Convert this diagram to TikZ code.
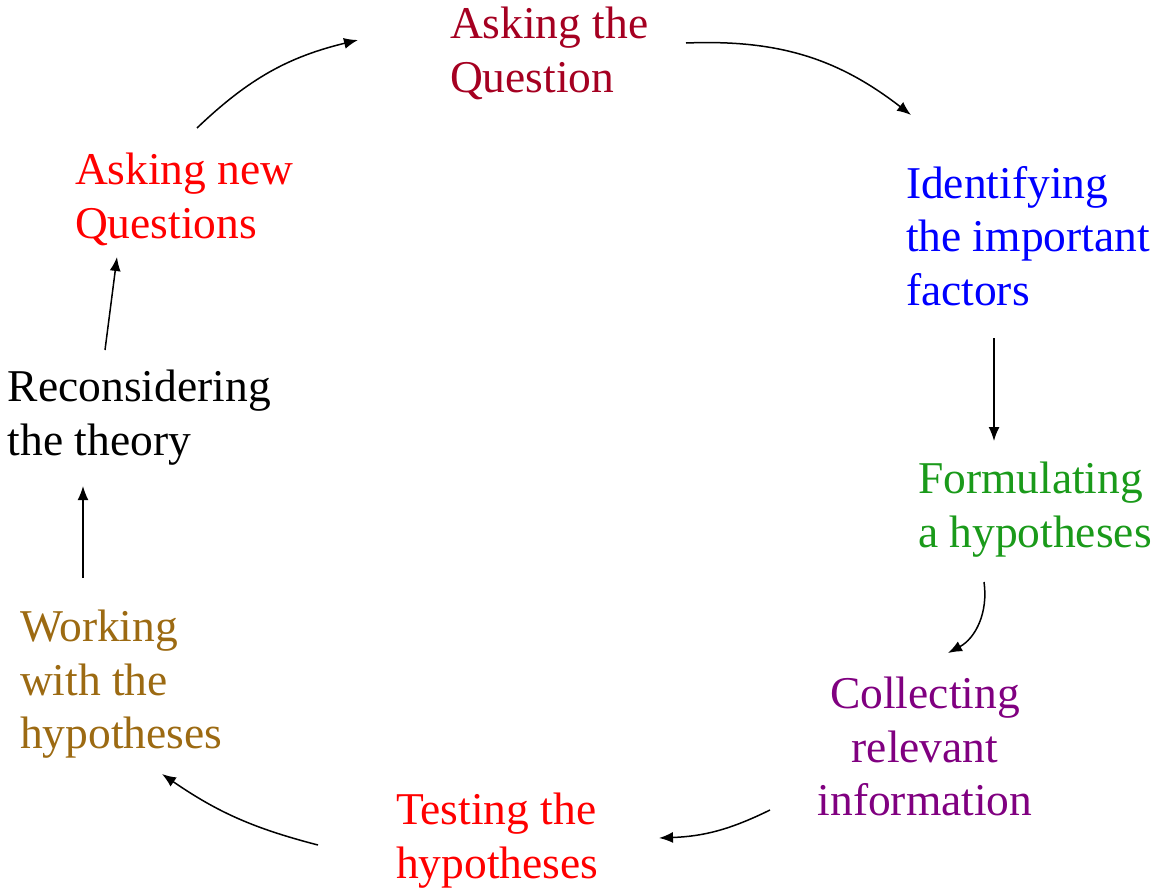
\documentclass[tikz,border=0pt]{standalone}
\usepackage{fontspec}
\setmainfont{Liberation Serif}
\usetikzlibrary{arrows.meta}
\definecolor{qred}{HTML}{A50021}
\definecolor{iblue}{HTML}{0000FF}
\definecolor{fgreen}{HTML}{1A9A1A}
\definecolor{cpurple}{HTML}{800080}
\definecolor{tred}{HTML}{FF0000}
\definecolor{wbrown}{HTML}{9C6A12}
\tikzset{
  lbl/.style={inner sep=0pt, outer sep=0pt, anchor=north west, align=left,
    font=\fontsize{45.5}{53.5}\selectfont},
  lblc/.style={lbl, anchor=north, align=center},
  arr/.style={line width=1.5pt, -{Latex[length=14pt,width=11pt]}}
}
\begin{document}
\begin{tikzpicture}[x=1pt,y=-1pt]
\useasboundingbox (0,0) rectangle (1151,889);
% labels
\node[lbl, text=qred] (q) at (450,7) {Asking the\\Question};
\node[lbl, text=iblue] (i) at (906,166) {Identifying\\the important\\factors};
\node[lbl, text=fgreen] (f) at (918,462) {Formulating\\a hypotheses};
\node[lblc, text=cpurple] (c) at (925,677) {Collecting\\relevant\\information};
\node[lbl, text=tred] (t) at (396,793) {Testing the\\hypotheses};
\node[lbl, text=wbrown] (w) at (20,610) {Working\\with the\\hypotheses};
\node[lbl, text=black] (r) at (8,370) {Reconsidering\\the theory};
\node[lbl, text=tred] (n) at (75,153) {Asking new\\Questions};
% connector end points
\coordinate (a1s) at (197,128); \coordinate (a1e) at (358,40);
\coordinate (a2s) at (686,43);  \coordinate (a2e) at (911,115);
\coordinate (a3s) at (994,338); \coordinate (a3e) at (994,441);
\coordinate (a4s) at (984,582); \coordinate (a4e) at (948,653);
\coordinate (a5s) at (770,810); \coordinate (a5e) at (659,838);
\coordinate (a6s) at (318,845); \coordinate (a6e) at (162,774);
\coordinate (a7s) at (83,578);  \coordinate (a7e) at (83,486);
\coordinate (a8s) at (105,350); \coordinate (a8e) at (117,257);
% connectors
\draw[arr] (a1s) to[bend left=15] (a1e);
\draw[arr] (a2s) to[bend left=20] (a2e);
\draw[arr] (a3s) -- (a3e);
\draw[arr] (a4s) to[bend left=35] (a4e);
\draw[arr] (a5s) to[bend left=12] (a5e);
\draw[arr] (a6s) to[bend left=10] (a6e);
\draw[arr] (a7s) -- (a7e);
\draw[arr] (a8s) -- (a8e);
\end{tikzpicture}
\end{document}
